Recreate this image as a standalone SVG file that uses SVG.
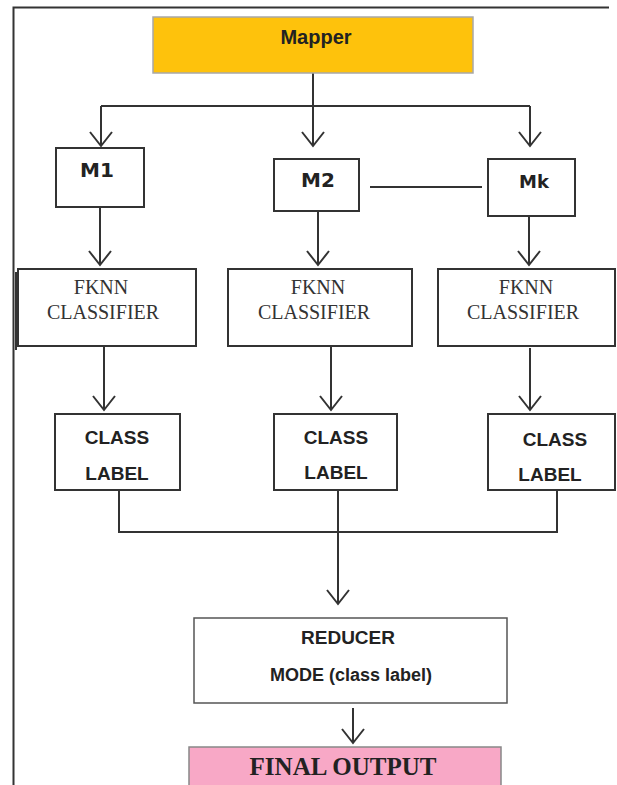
<svg xmlns="http://www.w3.org/2000/svg" width="617" height="785" viewBox="0 0 617 785">
<style>
.box{fill:#fff;stroke:#333;stroke-width:2}
.ln{fill:none;stroke:#333;stroke-width:2}
.sans{font-family:"Liberation Sans",Arial,sans-serif;font-weight:bold;fill:#222;text-anchor:middle}
.dv{font-family:"DejaVu Sans",sans-serif;font-weight:bold;fill:#222;text-anchor:middle}
.serif{font-family:"Liberation Serif","Times New Roman",serif;fill:#333;text-anchor:middle;font-size:20px}
</style>
<defs>
<marker id="ah" markerUnits="userSpaceOnUse" markerWidth="30" markerHeight="30" refX="0" refY="0" orient="auto" overflow="visible">
<path d="M-14,-11 L0,0 L-14,11" fill="none" stroke="#333" stroke-width="2"/>
</marker>
</defs>
<rect width="617" height="785" fill="#fff"/>
<g id="frame">
<path class="ln" d="M13.5,785 L13.5,7.5 L609,7.5"/>
</g>
<g id="connectors">
<path class="ln" d="M313,73 L313,106"/>
<path class="ln" d="M101,106 L530,106"/>
<path class="ln" d="M101,106 L101,146" marker-end="url(#ah)"/>
<path class="ln" d="M313,106 L313,146" marker-end="url(#ah)"/>
<path class="ln" d="M530,106 L530,146" marker-end="url(#ah)"/>
<path class="ln" d="M100,207 L100,265" marker-end="url(#ah)"/>
<path class="ln" d="M318,211 L318,265" marker-end="url(#ah)"/>
<path class="ln" d="M529,216 L529,265" marker-end="url(#ah)"/>
<path class="ln" d="M370,187 L482,187"/>
<path class="ln" d="M104,346 L104,410" marker-end="url(#ah)"/>
<path class="ln" d="M331,346 L331,410" marker-end="url(#ah)"/>
<path class="ln" d="M530,348 L530,410" marker-end="url(#ah)"/>
<path class="ln" d="M119,490 L119,532 L557,532 L557,490"/>
<path class="ln" d="M338,490 L338,604" marker-end="url(#ah)"/>
<path class="ln" d="M353,708 L353,743" marker-end="url(#ah)"/>
</g>
<g id="mapper">
<rect x="153" y="17" width="320" height="56" fill="#FEC20C" stroke="#A8A8A8" stroke-width="1.5"/>
<text class="sans" x="316" y="44" font-size="20">Mapper</text>
</g>
<g id="m1">
<rect class="box" x="56" y="148" width="88" height="59"/>
<text class="dv" x="97" y="177" font-size="20">M1</text>
</g>
<g id="m2">
<rect class="box" x="274" y="159" width="85" height="52"/>
<text class="dv" x="318" y="187" font-size="20">M2</text>
</g>
<g id="mk">
<rect class="box" x="488" y="159" width="87" height="57"/>
<text class="dv" x="534" y="188" font-size="18">Mk</text>
</g>
<g id="fknn1">
<rect class="box" x="18" y="269" width="178" height="77"/>
<path class="ln" d="M16,272 L16,350"/>
<text class="serif" x="101" y="294">FKNN</text>
<text class="serif" x="103" y="319">CLASSIFIER</text>
</g>
<g id="fknn2">
<rect class="box" x="228" y="269" width="184" height="77"/>
<text class="serif" x="318" y="294">FKNN</text>
<text class="serif" x="314" y="319">CLASSIFIER</text>
</g>
<g id="fknn3">
<rect class="box" x="438" y="269" width="177" height="77"/>
<text class="serif" x="526" y="294">FKNN</text>
<text class="serif" x="523" y="319">CLASSIFIER</text>
</g>
<g id="class1">
<rect class="box" x="55" y="414" width="125" height="76"/>
<text class="sans" x="117" y="444" font-size="19">CLASS</text>
<text class="sans" x="117" y="480" font-size="19">LABEL</text>
</g>
<g id="class2">
<rect class="box" x="274" y="414" width="123" height="76"/>
<text class="sans" x="336" y="444" font-size="19">CLASS</text>
<text class="sans" x="336" y="479" font-size="19">LABEL</text>
</g>
<g id="class3">
<rect class="box" x="488" y="414" width="127" height="76"/>
<text class="sans" x="555" y="446" font-size="19">CLASS</text>
<text class="sans" x="550" y="481" font-size="19">LABEL</text>
</g>
<g id="reducer">
<rect x="194" y="618" width="313" height="85" fill="#fff" stroke="#555" stroke-width="1.5"/>
<text class="sans" x="348" y="644" font-size="19">REDUCER</text>
<text class="sans" x="351" y="681" font-size="18">MODE (class label)</text>
</g>
<g id="final">
<rect x="189" y="747" width="312" height="50" fill="#F8A8C6" stroke="#888" stroke-width="1.5"/>
<text x="343" y="775" font-family="'Liberation Serif','Times New Roman',serif" font-weight="bold" font-size="25" fill="#222" text-anchor="middle">FINAL OUTPUT</text>
</g>
</svg>
